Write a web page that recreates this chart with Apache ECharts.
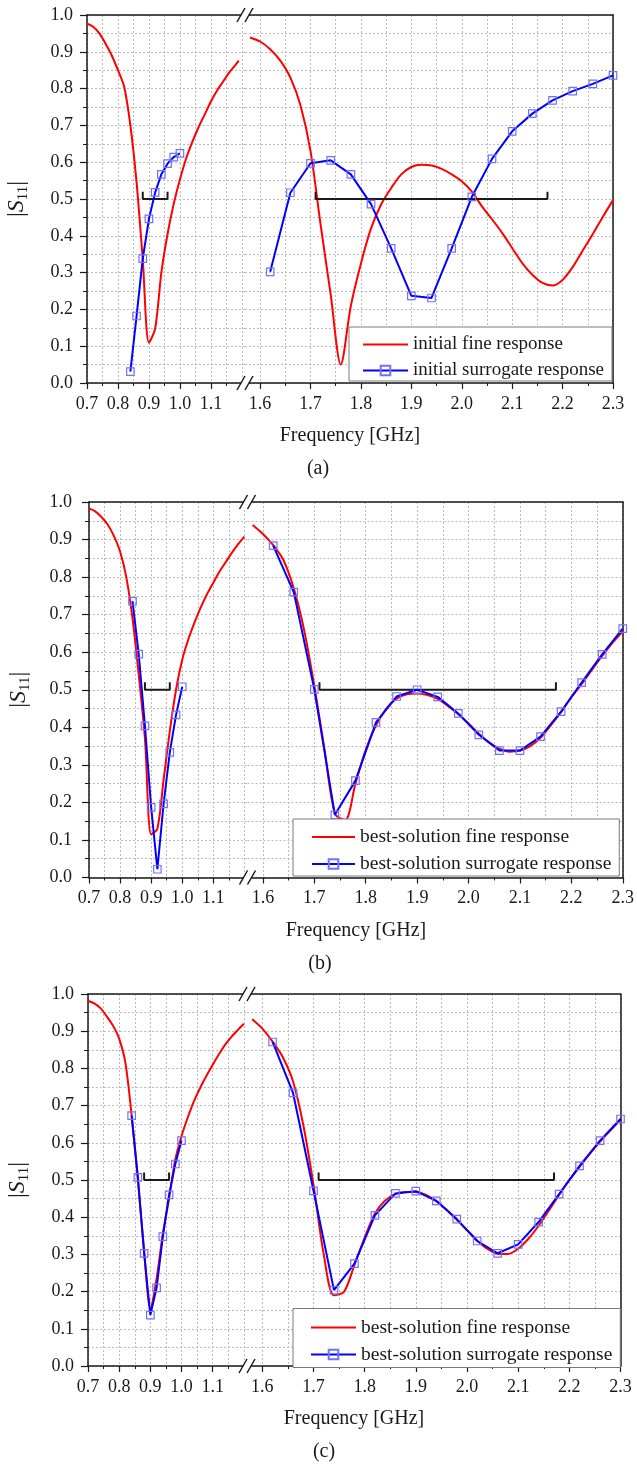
<!DOCTYPE html>
<html>
<head>
<meta charset="utf-8">
<script src="https://cdn.jsdelivr.net/npm/echarts@6/dist/echarts.min.js"></script>
<style>
  html, body { margin: 0; background: #fff; }
  #chart { width: 637px; height: 1464px; }
</style>
</head>
<body>
<div id="chart"></div>
<script>
// frequency samples [GHz]
const fineLeftXa = [0.70, 0.72, 0.74, 0.76, 0.78, 0.80, 0.82, 0.84, 0.86, 0.88, 0.90, 0.92, 0.94, 0.96, 0.98, 1.00, 1.02, 1.04, 1.06, 1.08, 1.10, 1.12, 1.14, 1.16, 1.18, 1.19]
const fineLeftX = [0.70, 0.72, 0.74, 0.76, 0.78, 0.80, 0.82, 0.84, 0.86, 0.88, 0.90, 0.92, 0.94, 0.96, 0.98, 1.00, 1.02, 1.04, 1.06, 1.08, 1.10, 1.12, 1.14, 1.16, 1.18, 1.20]
const fineRightX = [1.58, 1.60, 1.62, 1.64, 1.66, 1.68, 1.70, 1.72, 1.74, 1.76, 1.78, 1.80, 1.82, 1.84, 1.86, 1.88, 1.90, 1.92, 1.94, 1.96, 1.98,
  2.00, 2.02, 2.04, 2.06, 2.08, 2.10, 2.12, 2.14, 2.16, 2.18, 2.20, 2.22, 2.24, 2.26, 2.28, 2.30]
const surLeftX = [0.84, 0.86, 0.88, 0.90, 0.92, 0.94, 0.96, 0.98, 1.00]
const surRightX = [1.62, 1.66, 1.70, 1.74, 1.78, 1.82, 1.86, 1.90, 1.94, 1.98, 2.02, 2.06, 2.10, 2.14, 2.18, 2.22, 2.26, 2.30]

// |S11| fine model
const fineLeftA = [0.977, 0.968, 0.950, 0.922, 0.890, 0.850, 0.805, 0.700, 0.545, 0.335, 0.110, 0.148, 0.300, 0.405, 0.487, 0.553, 0.610, 0.655, 0.695, 0.730, 0.765, 0.795, 0.820, 0.845, 0.865, 0.876]
const fineRightA = [0.939, 0.928, 0.907, 0.876, 0.830, 0.755, 0.630, 0.430, 0.240, 0.050, 0.210, 0.325, 0.420, 0.485, 0.530, 0.567, 0.587, 0.593, 0.591, 0.582, 0.567,
  0.548, 0.520, 0.480, 0.445, 0.408, 0.367, 0.326, 0.294, 0.272, 0.265, 0.280, 0.315, 0.360, 0.405, 0.452, 0.497]
const fineLeftB = [0.983, 0.975, 0.960, 0.940, 0.910, 0.868, 0.800, 0.690, 0.540, 0.370, 0.115, 0.130, 0.260, 0.390, 0.500, 0.580, 0.635, 0.680, 0.720, 0.755, 0.785, 0.815, 0.840, 0.865, 0.888, 0.908]
const fineRightB = [0.939, 0.915, 0.885, 0.845, 0.770, 0.660, 0.510, 0.340, 0.170, 0.153, 0.250, 0.340, 0.405, 0.450, 0.476, 0.488, 0.490, 0.486, 0.476, 0.457, 0.435,
  0.410, 0.383, 0.360, 0.343, 0.335, 0.338, 0.350, 0.372, 0.405, 0.440, 0.480, 0.515, 0.553, 0.590, 0.625, 0.655]
const fineLeftC = [0.982, 0.975, 0.962, 0.940, 0.915, 0.880, 0.815, 0.673, 0.500, 0.310, 0.155, 0.235, 0.355, 0.450, 0.555, 0.618, 0.668, 0.712, 0.748, 0.780, 0.810, 0.838, 0.864, 0.885, 0.903, 0.920]
const fineRightC = [0.932, 0.907, 0.872, 0.830, 0.765, 0.648, 0.487, 0.300, 0.190, 0.200, 0.272, 0.345, 0.410, 0.445, 0.462, 0.468, 0.468, 0.460, 0.443, 0.420, 0.393,
  0.365, 0.337, 0.315, 0.302, 0.301, 0.315, 0.342, 0.377, 0.418, 0.460, 0.500, 0.535, 0.570, 0.603, 0.633, 0.662]

// |S11| surrogate model
const surLeftA = [0.031, 0.182, 0.338, 0.446, 0.518, 0.567, 0.596, 0.614, 0.624]
const surRightA = [0.302, 0.517, 0.597, 0.605, 0.567, 0.486, 0.366, 0.237, 0.231, 0.366, 0.506, 0.609, 0.684, 0.732, 0.768, 0.793, 0.813, 0.836]
const surLeftB = [0.736, 0.595, 0.404, 0.187, 0.022, 0.196, 0.333, 0.433, 0.508]
const surRightB = [0.884, 0.760, 0.501, 0.167, 0.258, 0.413, 0.482, 0.500, 0.481, 0.437, 0.380, 0.338, 0.338, 0.375, 0.442, 0.519, 0.594, 0.663]
const surLeftC = [0.673, 0.507, 0.303, 0.137, 0.210, 0.348, 0.460, 0.543, 0.606]
const surRightC = [0.871, 0.734, 0.471, 0.204, 0.275, 0.405, 0.464, 0.470, 0.444, 0.395, 0.336, 0.303, 0.327, 0.387, 0.462, 0.538, 0.606, 0.664]

// design specification brackets
const specLeftX = [0.88, 0.88, 0.96, 0.96]
const specRightX = [1.71, 1.71, 2.17, 2.17]
const specY = [0.52, 0.50, 0.50, 0.52]

const namesA = ['initial fine response', 'initial surrogate response']
const namesBC = ['best-solution fine response', 'best-solution surrogate response']
const captions = ['(a)', '(b)', '(c)']

const panels = [
  { names: namesA, fLX: fineLeftXa, fL: fineLeftA, fR: fineRightA, sL: surLeftA, sR: surRightA },
  { names: namesBC, fLX: fineLeftX, fL: fineLeftB, fR: fineRightB, sL: surLeftB, sR: surRightB },
  { names: namesBC, fLX: fineLeftX, fL: fineLeftC, fR: fineRightC, sL: surLeftC, sR: surRightC }
]

// page layout (px): plot left, break, right, top, bottom
const layout = [
  { L: 87, B: 245, R: 613, T: 15, Bot: 383, labM: 14, nameX: 350, capX: 318,
    leg: { left: 349, top: 327, padding: [8, 8, 1, 13], itemWidth: 45, fs: 19 } },
  { L: 89, B: 247.5, R: 623, T: 502, Bot: 877.5, labM: 17, nameX: 356, capX: 320,
    leg: { left: 293, top: 819, padding: [8, 8, 2, 18], itemWidth: 43, fs: 19.5 } },
  { L: 88, B: 247, R: 620.5, T: 994, Bot: 1366, labM: 14, nameX: 354, capX: 324,
    leg: { left: 293, top: 1308.5, padding: [9, 8, 3, 17], itemWidth: 45, fs: 19.5 } }
]

const font = '"Liberation Serif", "Times New Roman", serif'
const ink = '#1a1a1a'
const gridLine = { color: '#bcbcbc', width: 1, type: [2, 2] }
const frame = { color: ink, width: 1.5 }
const pair = (xs, ys) => xs.map((x, i) => [x, ys[i]])
const xFmt = v => (v > 1.15 && v < 1.59) ? '' : v.toFixed(1)
const lineIcon = 'path://M0,0H45V2.2H0Z'

const option = { animation: false, backgroundColor: '#fff', grid: [], xAxis: [], yAxis: [], series: [], legend: [], graphic: [] }

panels.forEach((p, k) => {
  const lay = layout[k]
  const segs = [
    { left: lay.L, width: lay.B - lay.L, min: 0.7, max: 1.21 },
    { left: lay.B, width: lay.R - lay.B, min: 1.57, max: 2.3 }
  ]
  const gi = []
  segs.forEach((s, j) => {
    const g = option.grid.length
    gi.push(g)
    option.grid.push({ left: s.left, top: lay.T, width: s.width, height: lay.Bot - lay.T })
    option.xAxis.push({
      gridIndex: g, type: 'value', position: 'bottom', min: s.min, max: s.max, minInterval: 0.1, maxInterval: 0.1,
      axisLine: { onZero: false, lineStyle: frame },
      axisTick: { length: 6, lineStyle: { color: ink, width: 1.2 } },
      minorTick: { show: true, splitNumber: 2, length: 3, lineStyle: { color: ink, width: 1 } },
      axisLabel: { formatter: xFmt, color: ink, fontFamily: font, fontSize: 18, margin: 12, hideOverlap: false },
      splitLine: { show: true, lineStyle: gridLine, showMinLine: j === 0, showMaxLine: j === 1 },
      minorSplitLine: { show: true, lineStyle: gridLine }
    })
    option.xAxis.push({
      gridIndex: g, type: 'value', position: 'top', min: s.min, max: s.max,
      axisLine: { onZero: false, lineStyle: frame }, axisTick: { show: false }, axisLabel: { show: false }, splitLine: { show: false }
    })
    const y = {
      gridIndex: g, type: 'value', min: 0, max: 1, interval: 0.1,
      splitLine: { show: true, lineStyle: gridLine }, minorSplitLine: { show: true, lineStyle: gridLine },
      axisLine: { show: true, onZero: false, lineStyle: frame }
    }
    if (j === 0) {
      Object.assign(y, {
        position: 'left',
        axisTick: { length: 7, lineStyle: { color: ink, width: 1.2 } },
        minorTick: { show: true, splitNumber: 2, length: 4, lineStyle: { color: ink, width: 1 } },
        axisLabel: { formatter: v => v.toFixed(1), color: ink, fontFamily: font, fontSize: 18, margin: lay.labM },
        name: '{n||}{i|S}{s|11}{n||}', nameLocation: 'middle', nameGap: 56,
        nameTextStyle: { color: ink, fontFamily: font, rich: {
          n: { fontSize: 24, fontFamily: font, color: ink, lineHeight: 28 },
          i: { fontSize: 24, fontFamily: font, fontStyle: 'italic', color: ink, lineHeight: 28 },
          s: { fontSize: 15, fontFamily: font, color: ink, verticalAlign: 'bottom' }
        } }
      })
    } else {
      Object.assign(y, {
        position: 'right', axisTick: { show: false }, minorTick: { show: false, splitNumber: 2 }, axisLabel: { show: false }
      })
    }
    option.yAxis.push(y)
  })

  const fine = { type: 'line', name: p.names[0], symbol: 'none', smooth: 0.3, z: 2, silent: true,
    lineStyle: { color: '#ff0000', width: 2 }, itemStyle: { color: '#ff0000' } }
  const sur = { type: 'line', name: p.names[1], symbol: 'rect', symbolSize: 7.5, z: 3, silent: true,
    lineStyle: { color: '#0000ff', width: 2 }, itemStyle: { color: 'rgba(255,255,255,0)', borderColor: '#7272ff', borderWidth: 1.2 } }
  const spec = { type: 'line', symbol: 'none', z: 2, silent: true, lineStyle: { color: ink, width: 2 } }
  const at = g => ({ xAxisIndex: 2 * g, yAxisIndex: g })
  option.series.push(
    { ...fine, ...at(gi[0]), data: pair(p.fLX, p.fL) },
    { ...fine, ...at(gi[1]), data: pair(fineRightX, p.fR) },
    { ...spec, ...at(gi[0]), data: pair(specLeftX, specY) },
    { ...spec, ...at(gi[1]), data: pair(specRightX, specY) },
    { ...sur, ...at(gi[0]), data: pair(surLeftX, p.sL) },
    { ...sur, ...at(gi[1]), data: pair(surRightX, p.sR) }
  )

  option.legend.push({
    data: [{ name: p.names[0], icon: lineIcon, itemStyle: { color: '#ff0000' } }, { name: p.names[1] }],
    orient: 'vertical', left: lay.leg.left, top: lay.leg.top, padding: lay.leg.padding,
    itemWidth: lay.leg.itemWidth, itemHeight: 12, itemGap: 7, selectedMode: false,
    backgroundColor: '#fff', borderColor: '#7a7a7a', borderWidth: 1,
    textStyle: { color: ink, fontFamily: font, fontSize: lay.leg.fs }
  })

  // axis break marks "//" on top and bottom frame lines
  ;[lay.T, lay.Bot].forEach(yy => {
    option.graphic.push({ type: 'rect', z: 100, shape: { x: lay.B - 4, y: yy - 4, width: 8, height: 12 }, style: { fill: '#fff' } })
    ;[-4, 4].forEach(dx => option.graphic.push({ type: 'line', z: 101,
      shape: { x1: lay.B + dx - 4, y1: yy + 7, x2: lay.B + dx + 4, y2: yy - 7 }, style: { stroke: ink, lineWidth: 1.5 } }))
  })
  option.graphic.push(
    { type: 'text', z: 100, x: lay.nameX, y: lay.Bot + 53,
      style: { text: 'Frequency [GHz]', fontFamily: font, fontSize: 20, fill: ink, align: 'center', verticalAlign: 'middle' } },
    { type: 'text', z: 100, x: lay.capX, y: lay.Bot + 86,
      style: { text: captions[k], fontFamily: font, fontSize: 20, fill: ink, align: 'center', verticalAlign: 'middle' } }
  )
})

const chart = echarts.init(document.getElementById('chart'), null, { renderer: 'canvas' })
chart.setOption(option)
window.addEventListener('resize', () => chart.resize())
</script>
</body>
</html>
